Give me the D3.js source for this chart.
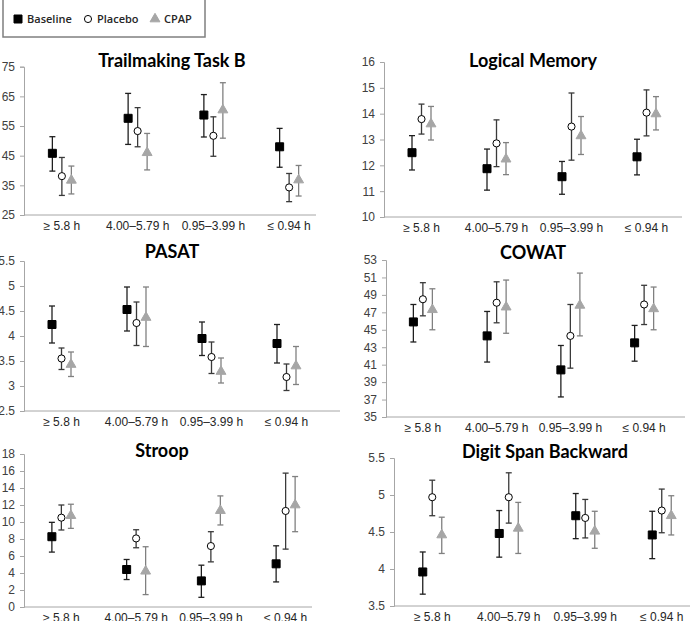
<!DOCTYPE html>
<head>
    <script src="https://cdn.jsdelivr.net/npm/d3@7"></script>
    <style>
        body { margin: 0; background: #fff; }
        text { font-family: "Liberation Sans", Arial, sans-serif; }
    </style>
</head>

<body>
    <div id="chart"></div>
</body>

<script>

    const width = 690,
        height = 621;

    const categories = ["≥ 5.8 h", "4.00–5.79 h", "0.95–3.99 h", "≤ 0.94 h"];
    const seriesNames = ["Baseline", "Placebo", "CPAP"];

    // each entry: [mean, lower error, upper error] for the 4 categories
    const trailBaseline = [[45.8, 39.8, 51.4], [57.6, 48.8, 66.0], [58.7, 51.3, 65.6], [48.0, 41.1, 54.2]];
    const trailPlacebo  = [[38.1, 31.6, 44.4], [53.3, 48.0, 61.2], [51.7, 44.8, 58.1], [34.3, 29.5, 39.0]];
    const trailCpap     = [[36.7, 32.1, 41.5], [46.0, 40.2, 52.5], [60.4, 50.9, 69.6], [36.8, 31.4, 41.7]];

    const memBaseline = [[12.49, 11.82, 13.15], [11.87, 11.04, 12.63], [11.56, 10.88, 12.15], [12.33, 11.63, 13.01]];
    const memPlacebo  = [[13.79, 13.21, 14.37], [12.85, 11.95, 13.76], [13.50, 12.20, 14.80], [14.04, 13.14, 14.92]];
    const memCpap     = [[13.60, 12.98, 14.28], [12.24, 11.64, 12.88], [13.14, 12.42, 13.89], [13.99, 13.37, 14.66]];

    const pasatBaseline = [[4.23, 3.86, 4.60], [4.53, 4.10, 4.98], [3.95, 3.61, 4.28], [3.85, 3.46, 4.23]];
    const pasatPlacebo  = [[3.55, 3.33, 3.76], [4.26, 3.81, 4.68], [3.58, 3.25, 3.88], [3.18, 2.91, 3.44]];
    const pasatCpap     = [[3.43, 3.19, 3.68], [4.37, 3.79, 4.98], [3.29, 3.06, 3.56], [3.40, 3.03, 3.79]];

    const cowatBaseline = [[45.9, 43.6, 47.9], [44.3, 41.3, 47.1], [40.4, 37.3, 43.2], [43.5, 41.4, 45.5]];
    const cowatPlacebo  = [[48.5, 46.6, 50.4], [48.1, 45.8, 50.5], [44.3, 40.6, 47.9], [47.9, 45.6, 50.1]];
    const cowatCpap     = [[47.3, 45.0, 49.7], [47.6, 44.6, 50.7], [47.8, 44.3, 51.5], [47.4, 45.0, 49.9]];

    const stroopBaseline = [[8.27, 6.46, 9.96], [4.41, 3.23, 5.59], [3.07, 1.14, 4.92], [5.08, 2.95, 7.20]];
    const stroopPlacebo  = [[10.51, 9.06, 12.0], [8.07, 6.97, 9.09], [7.17, 5.31, 8.86], [11.30, 6.81, 15.75]];
    const stroopCpap     = [[10.75, 9.25, 12.09], [4.21, 1.46, 7.09], [11.34, 9.65, 13.07], [12.0, 8.86, 15.35]];

    const digitBaseline = [[3.96, 3.66, 4.23], [4.48, 4.16, 4.79], [4.72, 4.41, 5.02], [4.46, 4.14, 4.78]];
    const digitPlacebo  = [[4.97, 4.72, 5.20], [4.97, 4.62, 5.30], [4.69, 4.42, 4.94], [4.79, 4.49, 5.08]];
    const digitCpap     = [[4.46, 4.21, 4.70], [4.55, 4.21, 4.90], [4.51, 4.28, 4.78], [4.72, 4.46, 4.99]];

    // y tick labels per panel
    const trailTicks  = [25, 35, 45, 55, 65, 75];
    const memTicks    = [10, 11, 12, 13, 14, 15, 16];
    const pasatTicks  = [2.5, 3, 3.5, 4, 4.5, 5, 5.5];
    const cowatTicks  = [35, 37, 39, 41, 43, 45, 47, 49, 51, 53];
    const stroopTicks = [0, 2, 4, 6, 8, 10, 12, 14, 16, 18];
    const digitTicks  = [3.5, 4, 4.5, 5, 5.5];

    // layout of each small chart
    const panels = [
        {title: "Trailmaking Task B", data: [trailBaseline, trailPlacebo, trailCpap], ticks: trailTicks,
         x0: 24, x1: 327, axisEnd: 316, yTop: 66.7, yBot: 215, titleX: 172, titleY: 67},
        {title: "Logical Memory", data: [memBaseline, memPlacebo, memCpap], ticks: memTicks,
         x0: 384, x1: 684, axisEnd: 682, yTop: 62, yBot: 217, titleX: 533, titleY: 67},
        {title: "PASAT", data: [pasatBaseline, pasatPlacebo, pasatCpap], ticks: pasatTicks,
         x0: 24, x1: 324, axisEnd: 340, yTop: 261, yBot: 411, titleX: 172, titleY: 258},
        {title: "COWAT", data: [cowatBaseline, cowatPlacebo, cowatCpap], ticks: cowatTicks,
         x0: 386, x1: 681, axisEnd: 685, yTop: 260, yBot: 417, titleX: 533, titleY: 259},
        {title: "Stroop", data: [stroopBaseline, stroopPlacebo, stroopCpap], ticks: stroopTicks,
         x0: 24, x1: 323, axisEnd: 312, yTop: 454, yBot: 607, titleX: 162, titleY: 457},
        {title: "Digit Span Backward", data: [digitBaseline, digitPlacebo, digitCpap], ticks: digitTicks,
         x0: 394, x1: 700, axisEnd: 690, yTop: 458, yBot: 606, titleX: 545, titleY: 458}
    ];

    const markerFill   = ["#000000", "#ffffff", "#a6a6a6"];
    const markerStroke = ["#000000", "#000000", "#a6a6a6"];
    const barColor     = ["#1f1f1f", "#3a3a3a", "#808080"];
    const symbols      = [
        d3.symbol().type(d3.symbolSquare).size(64),
        d3.symbol().type(d3.symbolCircle).size(40),
        d3.symbol().type(d3.symbolTriangle).size(42)
    ];
    const offsets = [-9.5, 0, 9.5];

    const svg = d3.select("#chart").append("svg")
        .attr("width", width)
        .attr("height", height);

    // legend
    const legend = svg.append("g");
    legend.append("rect")
        .attr("x", 3).attr("y", -1)
        .attr("width", 202).attr("height", 38)
        .attr("fill", "#fff")
        .attr("stroke", "#7f7f7f")
        .attr("stroke-width", 1.5);
    const legendX = [18, 88, 155];
    seriesNames.forEach((name, i) => {
        legend.append("path")
            .attr("d", symbols[i]())
            .attr("transform", `translate(${legendX[i]},19)`)
            .attr("fill", markerFill[i])
            .attr("stroke", markerStroke[i])
            .attr("stroke-width", 1);
        legend.append("text")
            .attr("x", legendX[i] + 9)
            .attr("y", 23)
            .attr("font-size", 11)
            .attr("font-weight", 600)
            .style("font-family", "'Open Sans', sans-serif")
            .attr("fill", "#262626")
            .text(name);
    });

    panels.forEach(p => {
        const g = svg.append("g");

        const x = d3.scaleBand()
            .domain(categories)
            .range([p.x0, p.x1]);

        const y = d3.scaleLinear()
            .domain([p.ticks[0], p.ticks[p.ticks.length - 1]])
            .range([p.yBot, p.yTop]);

        // y axis
        const yAxis = g.append("g")
            .attr("transform", `translate(${p.x0},0)`)
            .call(d3.axisLeft(y).tickValues(p.ticks).tickSize(4).tickPadding(5).tickFormat(d3.format("~g")));
        yAxis.selectAll("path, line").attr("stroke", "#a6a6a6");
        yAxis.selectAll("text")
            .attr("font-size", 12)
            .attr("fill", "#404040")
            .style("font-family", "'Liberation Sans', Arial, sans-serif");

        // x axis
        const xAxis = g.append("g")
            .attr("transform", `translate(0,${p.yBot})`)
            .call(d3.axisBottom(x).tickSize(0).tickPadding(6));
        xAxis.select(".domain")
            .attr("d", `M${p.x0},0H${p.axisEnd}`)
            .attr("stroke", "#a6a6a6");
        xAxis.selectAll("text")
            .attr("font-size", 12)
            .attr("fill", "#262626")
            .style("font-family", "'Liberation Sans', Arial, sans-serif");

        // title
        g.append("text")
            .attr("x", p.titleX)
            .attr("y", p.titleY)
            .attr("text-anchor", "middle")
            .attr("font-size", 18)
            .attr("font-weight", 700)
            .style("font-family", "Lato, sans-serif")
            .attr("fill", "#000")
            .text(p.title);

        p.data.forEach((values, s) => {
            const cx = (d, i) => x(categories[i]) + x.bandwidth() / 2 + offsets[s];
            const bars = g.append("g")
                .attr("stroke", barColor[s])
                .attr("stroke-width", 1.3);

            bars.selectAll("line.stem").data(values).join("line")
                .attr("x1", cx).attr("x2", cx)
                .attr("y1", d => y(d[1])).attr("y2", d => y(d[2]));
            bars.selectAll("line.top").data(values).join("line")
                .attr("x1", (d, i) => cx(d, i) - 3).attr("x2", (d, i) => cx(d, i) + 3)
                .attr("y1", d => y(d[2])).attr("y2", d => y(d[2]));
            bars.selectAll("line.bottom").data(values).join("line")
                .attr("x1", (d, i) => cx(d, i) - 3).attr("x2", (d, i) => cx(d, i) + 3)
                .attr("y1", d => y(d[1])).attr("y2", d => y(d[1]));

            g.append("g").selectAll("path").data(values).join("path")
                .attr("d", symbols[s]())
                .attr("transform", (d, i) => `translate(${cx(d, i)},${y(d[0])})`)
                .attr("fill", markerFill[s])
                .attr("stroke", markerStroke[s])
                .attr("stroke-width", 1);
        });
    });

</script>
